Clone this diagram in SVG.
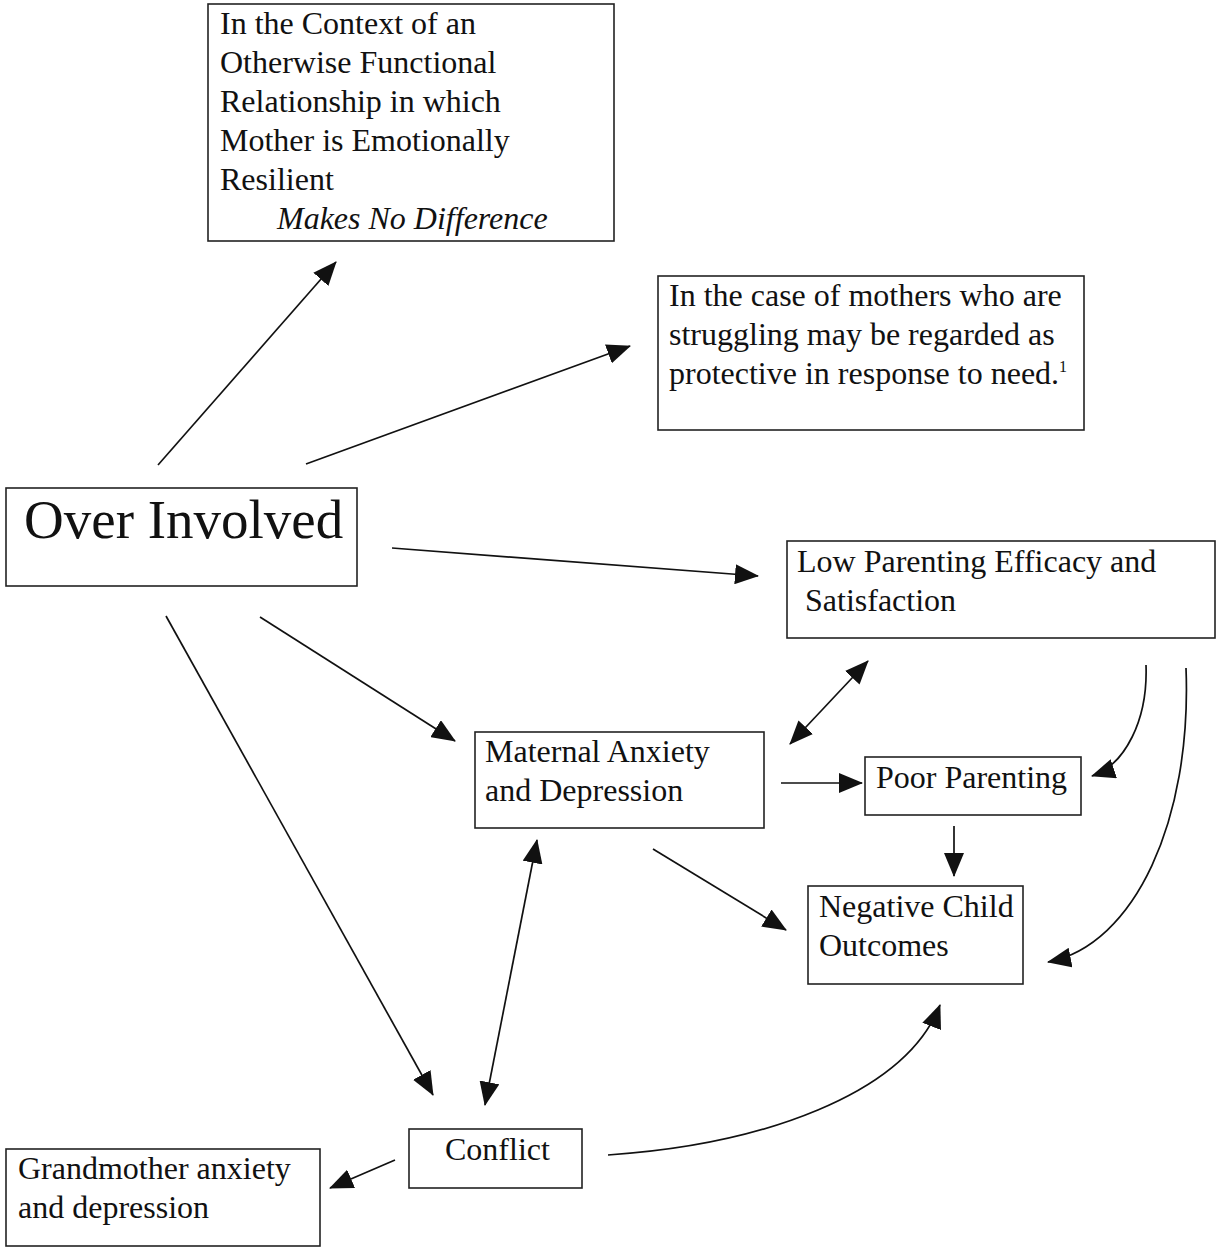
<svg xmlns="http://www.w3.org/2000/svg" width="1216" height="1247" viewBox="0 0 1216 1247">
<style>
.box{fill:#fff;stroke:#222;stroke-width:1.6}
.t{font-family:"Liberation Serif","Times New Roman",serif;font-size:32px;fill:#111}
.big{font-size:55px}
.sup{font-size:16px}
.c{fill:none;stroke:#111;stroke-width:1.7}
</style>
<defs>
<marker id="ah" markerUnits="userSpaceOnUse" markerWidth="24" markerHeight="20" refX="23" refY="10" orient="auto-start-reverse" viewBox="0 0 24 20">
<path d="M0,0 L24,10 L0,20 z" fill="#111"/>
</marker>
</defs>
<rect width="1216" height="1247" fill="#fff"/>
<g id="n-context">
<rect class="box" x="208" y="4" width="406" height="237"/>
<text class="t" x="220" y="34">In the Context of an</text>
<text class="t" x="220" y="73">Otherwise Functional</text>
<text class="t" x="220" y="112">Relationship in which</text>
<text class="t" x="220" y="151">Mother is Emotionally</text>
<text class="t" x="220" y="190">Resilient</text>
<text class="t" x="277" y="229" font-style="italic">Makes No Difference</text>
</g>
<g id="n-struggling">
<rect class="box" x="658" y="276" width="426" height="154"/>
<text class="t" x="669" y="306">In the case of mothers who are</text>
<text class="t" x="669" y="345">struggling may be regarded as</text>
<text class="t" x="669" y="384">protective in response to need.<tspan class="sup" dy="-12">1</tspan></text>
</g>
<g id="n-over">
<rect class="box" x="6" y="488" width="351" height="98"/>
<text class="t big" x="24" y="538">Over Involved</text>
</g>
<g id="n-low">
<rect class="box" x="787" y="541" width="428" height="97"/>
<text class="t" x="797" y="572">Low Parenting Efficacy and</text>
<text class="t" x="805" y="611">Satisfaction</text>
</g>
<g id="n-maternal">
<rect class="box" x="475" y="732" width="289" height="96"/>
<text class="t" x="485" y="762">Maternal Anxiety</text>
<text class="t" x="485" y="801">and Depression</text>
</g>
<g id="n-poor">
<rect class="box" x="865" y="757" width="216" height="58"/>
<text class="t" x="876" y="788">Poor Parenting</text>
</g>
<g id="n-negative">
<rect class="box" x="808" y="886" width="215" height="98"/>
<text class="t" x="819" y="917">Negative Child</text>
<text class="t" x="819" y="956">Outcomes</text>
</g>
<g id="n-conflict">
<rect class="box" x="409" y="1129" width="173" height="59"/>
<text class="t" x="445" y="1160">Conflict</text>
</g>
<g id="n-grandmother">
<rect class="box" x="6" y="1149" width="314" height="97"/>
<text class="t" x="18" y="1179">Grandmother anxiety</text>
<text class="t" x="18" y="1218">and depression</text>
</g>
<g id="connectors">
<path class="c" d="M158,465 L336,262" marker-end="url(#ah)"/>
<path class="c" d="M306,464 L630,346" marker-end="url(#ah)"/>
<path class="c" d="M392,548 L758,576" marker-end="url(#ah)"/>
<path class="c" d="M260,617 L455,741" marker-end="url(#ah)"/>
<path class="c" d="M166,616 L433,1095" marker-end="url(#ah)"/>
<path class="c" d="M790,744 L868,661" marker-start="url(#ah)" marker-end="url(#ah)"/>
<path class="c" d="M781,783 L862,783" marker-end="url(#ah)"/>
<path class="c" d="M1146,665 C1148,720 1125,765 1092,776" marker-end="url(#ah)"/>
<path class="c" d="M1186,668 C1192,820 1135,945 1048,962" marker-end="url(#ah)"/>
<path class="c" d="M954,826 L954,876" marker-end="url(#ah)"/>
<path class="c" d="M653,849 L786,930" marker-end="url(#ah)"/>
<path class="c" d="M537,840 L485,1105" marker-start="url(#ah)" marker-end="url(#ah)"/>
<path class="c" d="M395,1160 L330,1188" marker-end="url(#ah)"/>
<path class="c" d="M608,1155 C760,1145 905,1095 940,1005" marker-end="url(#ah)"/>
</g>
</svg>
